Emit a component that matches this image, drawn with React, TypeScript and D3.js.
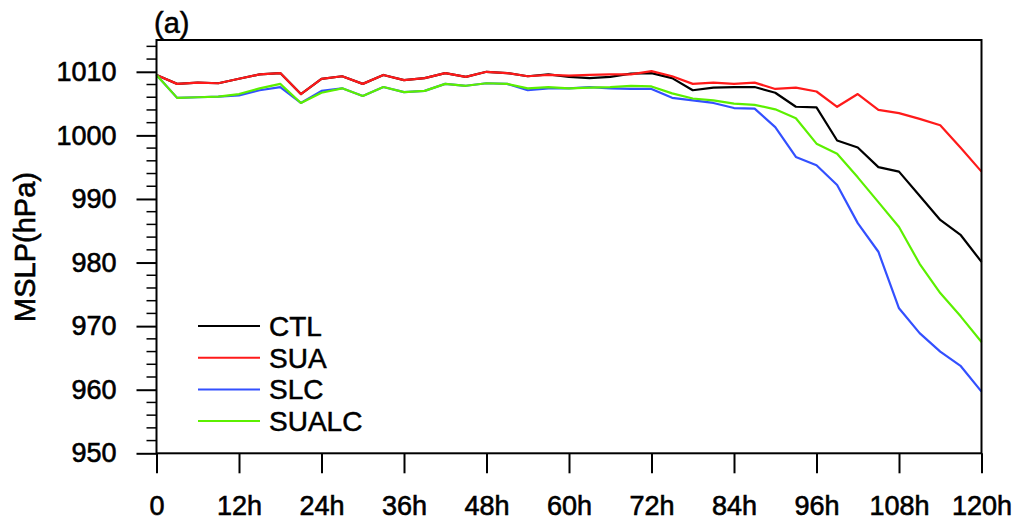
import { useEffect, useRef } from "react";
import * as d3 from "d3";

// forecast hours, every 3h from 0 to 120
const hours = d3.range(0, 121, 3);

const xTickValues = [0, 12, 24, 36, 48, 60, 72, 84, 96, 108, 120];
const xTickLabels = ["0", "12h", "24h", "36h", "48h", "60h", "72h", "84h", "96h", "108h", "120h"];
const yTickValues = [950, 960, 970, 980, 990, 1000, 1010];

const ctl = [
  1009.5, 1008.1, 1008.3, 1008.2, 1008.9, 1009.6, 1009.8, 1006.5, 1008.9, 1009.3,
  1008.1, 1009.5, 1008.7, 1009.0, 1009.8, 1009.2, 1010.0, 1009.8, 1009.3, 1009.6,
  1009.2, 1009.0, 1009.2, 1009.7, 1009.8, 1009.0, 1007.1, 1007.5, 1007.6, 1007.6,
  1006.7, 1004.5, 1004.4, 999.2, 998.1, 995.0, 994.3, 990.5, 986.7, 984.3, 980.1,
];
const sua = [
  1009.5, 1008.1, 1008.3, 1008.2, 1008.9, 1009.6, 1009.8, 1006.5, 1008.9, 1009.3,
  1008.1, 1009.5, 1008.7, 1009.0, 1009.8, 1009.2, 1010.0, 1009.8, 1009.3, 1009.5,
  1009.4, 1009.5, 1009.6, 1009.6, 1010.1, 1009.3, 1008.1, 1008.3, 1008.1, 1008.3,
  1007.3, 1007.5, 1006.9, 1004.5, 1006.5, 1004.0, 1003.5, 1002.6, 1001.6, 998.0, 994.3,
];
const slc = [
  1009.5, 1005.9, 1006.0, 1006.1, 1006.3, 1007.1, 1007.6, 1005.1, 1007.0, 1007.4,
  1006.2, 1007.6, 1006.8, 1007.0, 1008.1, 1007.8, 1008.2, 1008.1, 1007.1, 1007.4,
  1007.4, 1007.6, 1007.4, 1007.3, 1007.3, 1005.9, 1005.5, 1005.1, 1004.3, 1004.2,
  1001.3, 996.6, 995.3, 992.2, 986.2, 981.7, 972.8, 968.9, 966.0, 963.7, 959.7,
];
const sualc = [
  1009.5, 1005.9, 1006.0, 1006.1, 1006.5, 1007.4, 1008.1, 1005.1, 1006.7, 1007.4,
  1006.2, 1007.6, 1006.8, 1007.0, 1008.1, 1007.8, 1008.2, 1008.1, 1007.4, 1007.6,
  1007.4, 1007.5, 1007.6, 1007.8, 1007.7, 1006.6, 1005.8, 1005.5, 1005.0, 1004.8,
  1004.1, 1002.7, 998.7, 997.1, 993.4, 989.5, 985.6, 979.8, 975.2, 971.5, 967.5,
];

const seriesNames = ["CTL", "SUA", "SLC", "SUALC"];
const seriesValues = [ctl, sua, slc, sualc];
const colors = ["#000000", "#ff1a1a", "#3350ff", "#5cf000"];

export default function App() {
  const svgRef = useRef<SVGSVGElement>(null);
  const width = 1017;
  const height = 521;

  useEffect(() => {
    const svg = d3.select(svgRef.current);
    svg.selectAll("*").remove();

    const left = 156.5;
    const right = 981.5;
    const top = 40;
    const bottom = 453.3;
    const font = "'Liberation Sans', Arial, sans-serif";

    const x = d3.scaleLinear().domain([0, 120]).range([left, right]);
    const y = d3.scaleLinear().domain([950, 1015]).range([bottom, top]);

    // series lines
    const line = d3
      .line<number>()
      .x((_, i) => x(hours[i]))
      .y((d) => y(d));

    seriesValues.forEach((vals, k) => {
      svg
        .append("path")
        .datum(vals)
        .attr("d", line)
        .attr("fill", "none")
        .attr("stroke", colors[k])
        .attr("stroke-width", 2.2)
        .attr("stroke-linejoin", "round");
    });

    // frame
    svg
      .append("rect")
      .attr("x", left)
      .attr("y", top)
      .attr("width", right - left)
      .attr("height", bottom - top)
      .attr("fill", "none")
      .attr("stroke", "#000")
      .attr("stroke-width", 2);

    // y axis
    const yAxis = d3
      .axisLeft(y)
      .tickValues(yTickValues)
      .tickSize(20)
      .tickPadding(20)
      .tickFormat(d3.format("d"));
    const gy = svg.append("g").attr("transform", `translate(${left},0)`).call(yAxis);
    gy.select(".domain").remove();
    gy.selectAll("line").attr("stroke-width", 2);
    gy.selectAll("text")
      .attr("font-family", font)
      .attr("font-size", 27)
      .attr("fill", "#000")
      .attr("stroke", "#000")
      .attr("stroke-width", 0.6);

    const yMinor = d3.range(950, 1015.1, 2).filter((v) => v % 10 !== 0);
    svg
      .append("g")
      .selectAll("line")
      .data(yMinor)
      .join("line")
      .attr("x1", left - 10)
      .attr("x2", left)
      .attr("y1", (d) => y(d))
      .attr("y2", (d) => y(d))
      .attr("stroke", "#000")
      .attr("stroke-width", 1.5);

    // x axis
    const xAxis = d3
      .axisBottom(x)
      .tickValues(xTickValues)
      .tickSize(20)
      .tickPadding(23)
      .tickFormat((_, i) => xTickLabels[i]);
    const gx = svg.append("g").attr("transform", `translate(0,${bottom})`).call(xAxis);
    gx.select(".domain").remove();
    gx.selectAll("line").attr("stroke-width", 2);
    gx.selectAll("text")
      .attr("font-family", font)
      .attr("font-size", 27)
      .attr("fill", "#000")
      .attr("stroke", "#000")
      .attr("stroke-width", 0.6);

    // y title
    svg
      .append("text")
      .attr("transform", `translate(35,247) rotate(-90)`)
      .attr("text-anchor", "middle")
      .attr("font-family", font)
      .attr("font-size", 29)
      .attr("stroke", "#000")
      .attr("stroke-width", 0.6)
      .text("MSLP(hPa)");

    // panel label
    svg
      .append("text")
      .attr("x", 154)
      .attr("y", 33)
      .attr("font-family", font)
      .attr("font-size", 29)
      .attr("stroke", "#000")
      .attr("stroke-width", 0.5)
      .text("(a)");

    // legend
    const legend = svg
      .selectAll(".legend")
      .data(seriesNames)
      .join("g")
      .attr("class", "legend")
      .attr("transform", (_, i) => `translate(198,${326 + i * 31.7})`);

    legend
      .append("line")
      .attr("x1", 0)
      .attr("x2", 62)
      .attr("stroke", (_, i) => colors[i])
      .attr("stroke-width", 2);

    legend
      .append("text")
      .attr("x", 71)
      .attr("dy", "0.36em")
      .attr("font-family", font)
      .attr("font-size", 28)
      .attr("stroke", "#000")
      .attr("stroke-width", 0.5)
      .text((d) => d);
  }, []);

  return (
    <svg
      ref={svgRef}
      width={width}
      height={height}
      style={{ position: "absolute", left: 0, top: 0, background: "#fff" }}
    ></svg>
  );
}
